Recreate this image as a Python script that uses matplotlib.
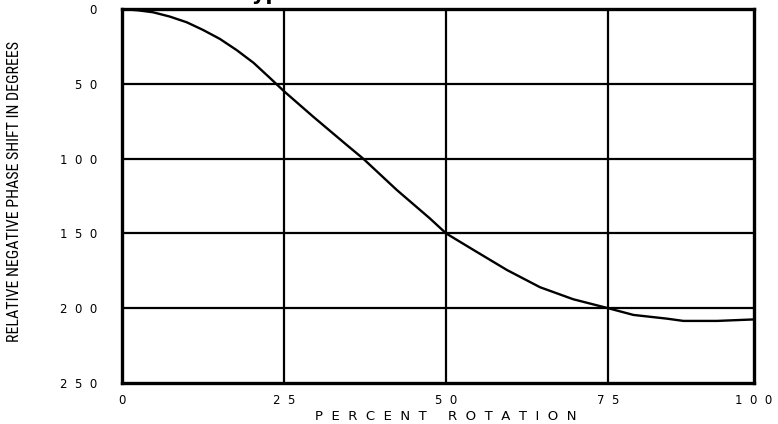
import matplotlib
matplotlib.use("Agg")
import matplotlib.pyplot as plt
from matplotlib import font_manager as fm

# Data
rotation_pct = [0, 2.5, 4.8, 7.4, 10.0, 12.5, 15.1, 17.7, 20.3, 22.8, 25.0, 29.5,
                34.7, 37.2, 42.4, 47.5, 50.0, 54.2, 59.4, 64.5, 69.6, 75.0,
                78.9, 84.1, 86.6, 91.8, 97.5]
phase_shift = [0, 0.9, 2.2, 5.1, 8.9, 14.0, 20.0, 27.5, 36.0, 46.0, 55.0, 72.0,
               91.0, 100.0, 121.0, 140.0, 150.0, 161.0, 174.5, 186.0, 194.0, 200.0,
               204.5, 207.0, 208.5, 208.5, 207.5]

x_ticks = [0, 25, 50, 75, 97.5]
x_tick_labels = ["0", "2  5", "5  0", "7  5", "1  0  0"]
y_ticks = [0, 50, 100, 150, 200, 250]
y_tick_labels = ["0", "5  0", "1  0  0", "1  5  0", "2  0  0", "2  5  0"]

# pick a condensed face if one is installed
names = {f.name for f in fm.fontManager.ttflist}
cond_family = None
for cand in ["Liberation Sans Narrow", "DejaVu Sans Condensed", "Roboto Condensed",
             "Open Sans Condensed"]:
    if cand in names:
        cond_family = cand
        break
dejavu_cond = any("Condensed" in f.fname and "DejaVuSans" in f.fname for f in fm.fontManager.ttflist)

W, H = 778, 424
fig = plt.figure(figsize=(W / 100, H / 100), dpi=100)
ax = fig.add_axes([122 / W, (H - 383) / H, (754 - 122) / W, (383 - 9) / H])

ax.plot(rotation_pct, phase_shift, color="black", lw=1.7, solid_capstyle="round", zorder=3)

ax.set_xlim(0, 97.5)
ax.set_ylim(250, 0)
ax.set_xticks(x_ticks)
ax.set_xticklabels(x_tick_labels)
ax.set_yticks(y_ticks)
ax.set_yticklabels(y_tick_labels)
ax.tick_params(length=0, labelsize=8.5)
ax.tick_params(axis="y", pad=18)
ax.tick_params(axis="x", pad=8)

for x in x_ticks[1:-1]:
    ax.axvline(x, color="black", lw=1.6, zorder=2)
for y in y_ticks[1:-1]:
    ax.axhline(y, color="black", lw=1.6, zorder=2)

for s in ax.spines.values():
    s.set_linewidth(2.4)
    s.set_color("black")

fig.text(446 / W, 1 - 417 / H, "P  E  R  C  E  N  T     R  O  T  A  T  I  O  N",
         ha="center", va="center", fontsize=9.5)

ylab_kw = dict(rotation=90, ha="center", va="center")
if cond_family:
    ylab_kw.update(family=[cond_family, "DejaVu Sans"], fontsize=11.5)
elif dejavu_cond:
    ylab_kw.update(family="DejaVu Sans", fontstretch="condensed", fontsize=10.5)
else:
    ylab_kw.update(fontsize=9.3)
fig.text(15 / W, 1 - 192 / H, "RELATIVE NEGATIVE PHASE SHIFT IN DEGREES", **ylab_kw)

fig.text(240 / W, 1 + 0.5 / H, "Typical Phase Shift Curve", ha="left", va="baseline",
         fontsize=15, fontweight="bold")

fig.savefig("out.png", dpi=100)
